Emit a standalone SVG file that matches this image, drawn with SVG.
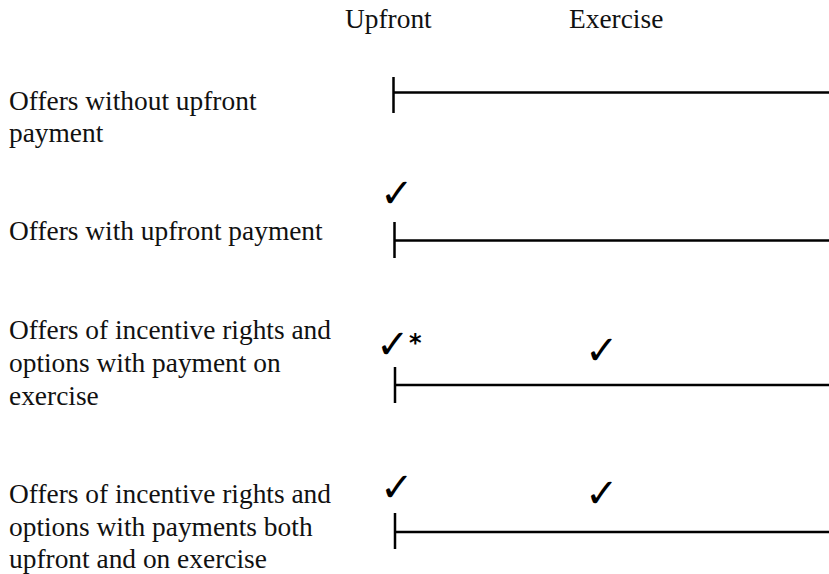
<svg xmlns="http://www.w3.org/2000/svg" width="829" height="574" viewBox="0 0 829 574">
<style>
  .t { font-family: 'Liberation Serif', serif; font-size: 27.4px; fill: #111; }
  .chk { font-family: 'DejaVu Sans', sans-serif; font-size: 40px; font-weight: bold; fill: #000; }
  .ast { font-family: 'DejaVu Sans', sans-serif; font-size: 24px; font-weight: bold; fill: #000; }
  .ln { stroke: #000; stroke-width: 2.5; fill: none; }
</style>
<rect width="829" height="574" fill="#fff"/>
<g id="header">
  <text class="t" x="345" y="28">Upfront</text>
  <text class="t" x="569" y="28">Exercise</text>
</g>
<g id="row1">
  <text class="t" x="9" y="110">Offers without upfront</text>
  <text class="t" x="9" y="142">payment</text>
</g>
<g id="row2">
  <text class="t" x="9" y="240">Offers with upfront payment</text>
  <text class="chk" x="380" y="207">✓</text>
</g>
<g id="row3">
  <text class="t" x="9" y="339">Offers of incentive rights and</text>
  <text class="t" x="9" y="372">options with payment on</text>
  <text class="t" x="9" y="405">exercise</text>
  <text class="chk" x="376" y="358">✓</text>
  <text class="ast" x="409" y="351">*</text>
  <text class="chk" x="585" y="364">✓</text>
</g>
<g id="row4">
  <text class="t" x="9" y="503">Offers of incentive rights and</text>
  <text class="t" x="9" y="536">options with payments both</text>
  <text class="t" x="9" y="568">upfront and on exercise</text>
  <text class="chk" x="380" y="501">✓</text>
  <text class="chk" x="585" y="507">✓</text>
</g>
<g id="connectors">
  <path class="ln" d="M393.5 77V113M393.5 92.5H829"/>
  <path class="ln" d="M394.5 222V258M394.5 240.5H829"/>
  <path class="ln" d="M395 367V403M395 385H829"/>
  <path class="ln" d="M395 513V549M395 532H829"/>
</g>
</svg>
